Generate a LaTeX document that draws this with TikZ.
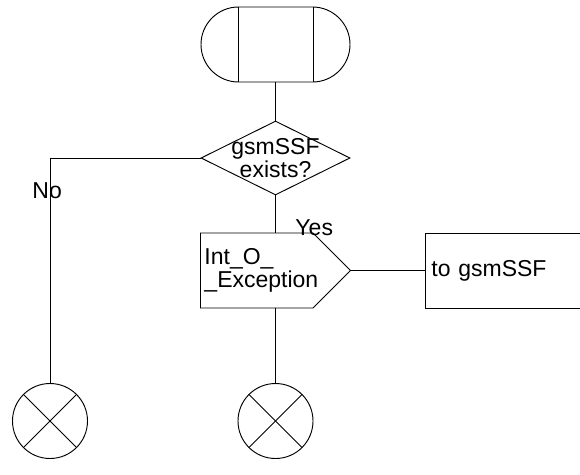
\documentclass[tikz,border=0pt]{standalone}
\usepackage{fontspec}
\setmainfont{Liberation Sans}
\usetikzlibrary{shapes.geometric,shapes.misc,shapes.symbols}
\tikzset{
  startbox/.style={
    draw,
    rounded rectangle,
    minimum width=111.75pt,
    minimum height=56.25pt,
    inner sep=0pt
  },
  decisionbox/.style={
    draw,
    diamond,
    minimum width=111.75pt,
    minimum height=55.5pt,
    inner sep=0pt
  },
  outbox/.style={
    draw,
    signal,
    signal to=east,
    signal pointer angle=90,
    minimum width=112.5pt,
    minimum height=56.25pt,
    inner sep=0pt
  },
  procbox/.style={
    draw,
    rectangle,
    align=left,
    text width=200pt,
    inner xsep=4.5pt,
    minimum height=56.25pt
  },
  stopcircle/.style={
    draw,
    circle,
    minimum size=56.25pt,
    inner sep=0pt
  },
  txt/.style={inner sep=0pt, align=left}
}

\begin{document}
\begin{tikzpicture}[
  x=0.75pt, y=-0.75pt,
  line width=0.7pt,
  every node/.style={font=\fontsize{17.25}{17.25}\selectfont}
]
\clip (0,0) rectangle (580,474);
\node[startbox] (start) at (275.5,44.5) {};
\draw ([xshift=-28.125pt]start.north) -- ([xshift=-28.125pt]start.south);
\draw ([xshift=28.125pt]start.north) -- ([xshift=28.125pt]start.south);
\node[decisionbox] (check) at (275.5,158) {};
\node[txt, align=center] (checktext) at (check.center) {gsmSSF\\exists?};
\node[outbox, anchor=west] (sig) at (200,270.5) {};
\node[txt, anchor=west] (sigtext) at ([xshift=3pt]sig.west) {Int\_O\_\\\_Exception};
\node[procbox, anchor=west] (dest) at (425,270.5) {to gsmSSF};
\node[stopcircle] (stopno) at (50,421) {};
\node[stopcircle] (stopyes) at (275.5,421) {};
% crosses in the stop symbols
\draw (stopno.north west) -- (stopno.south east);
\draw (stopno.north east) -- (stopno.south west);
\draw (stopyes.north west) -- (stopyes.south east);
\draw (stopyes.north east) -- (stopyes.south west);
% start -> decision
\draw (start.south) -- (check.north);
% decision -> No
\draw (check.west) -| (stopno.north);
\node[txt, anchor=base west] (nolbl) at (32,198) {No};
% decision -> Yes
\draw (check.south) -- (check.south |- sig.north);
\node[txt, anchor=base west] (yeslbl) at (295,235) {Yes};
% output -> stop, output -> gsmSSF
\draw (stopyes.north) -- (stopyes.north |- sig.south);
\draw (sig.east) -- (dest.west);
\end{tikzpicture}
\end{document}
